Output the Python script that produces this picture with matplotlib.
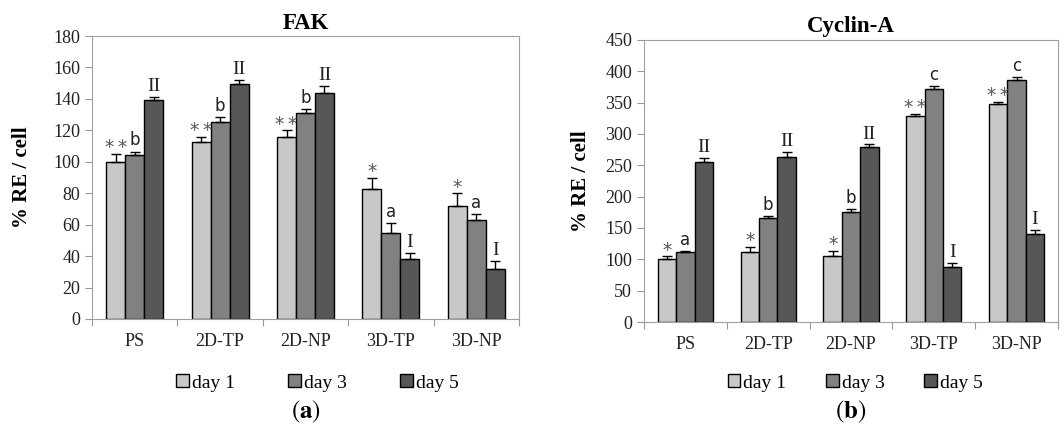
import numpy as np
import matplotlib.pyplot as plt

# DATA
GROUPS = ['PS', '2D-TP', '2D-NP', '3D-TP', '3D-NP']
DAYS = ['day 1', 'day 3', 'day 5']
COLORS = ['#c8c8c8', '#818181', '#575757']

# FAK (% RE / cell)
fak_day1 = [100, 112.5, 116, 83, 72]
fak_day3 = [104, 125.5, 131, 55, 63]
fak_day5 = [139.5, 149.5, 144, 38, 32]
fak_err1 = [5, 3.5, 4, 7, 8]
fak_err3 = [2.5, 3, 2.5, 6, 3.5]
fak_err5 = [2, 2.5, 4.5, 4, 5]
fak_marks1 = ['**', '**', '**', '*', '*']
fak_marks3 = ['b', 'b', 'b', 'a', 'a']
fak_marks5 = ['II', 'II', 'II', 'I', 'I']

# CYCLIN-A (% RE / cell)
cyc_day1 = [101, 112, 106, 329, 348]
cyc_day3 = [111, 166, 175, 372, 386]
cyc_day5 = [255, 263, 279, 87, 140]
cyc_err1 = [4, 8, 8, 3.5, 3.5]
cyc_err3 = [2, 3.5, 5, 4, 4.5]
cyc_err5 = [7, 8, 4.5, 7, 7]
cyc_marks1 = ['*', '*', '*', '**', '**']
cyc_marks3 = ['a', 'b', 'b', 'c', 'c']
cyc_marks5 = ['II', 'II', 'II', 'I', 'I']

plt.rcParams['font.family'] = ['Liberation Serif', 'DejaVu Serif']
plt.rcParams['mathtext.fontset'] = 'stix'


def panel(ax, title, days, errs, marks, ymax, ystep, tag, ylpad, tpad, leg_x, leg_y, colsp, tag_y):
    x = np.arange(len(GROUPS))
    w = 0.222
    for i in range(3):
        xi = x + (i - 1) * w
        ax.bar(xi, days[i], w, color=COLORS[i], edgecolor='black', linewidth=1.0,
               label=DAYS[i], zorder=2)
        ax.errorbar(xi, days[i], yerr=[np.zeros(len(GROUPS)), errs[i]], fmt='none',
                    ecolor='black', elinewidth=1.0, capsize=3.5, capthick=1.0, zorder=3)
        for j in range(len(GROUPS)):
            top = days[i][j] + errs[i][j]
            m = marks[i][j]
            if m.startswith('*'):
                # star marks sit a little apart in the original
                ax.text(xi[j], top - ymax * 0.012, '\u2009'.join(m), ha='center', va='bottom',
                        fontsize=13.5, family='DejaVu Sans', color='#555555')
            elif m in ('a', 'b', 'c'):
                ax.text(xi[j], top + ymax * 0.008, m, ha='center', va='bottom',
                        fontsize=12, family='DejaVu Sans', color='#222222')
            else:
                ax.text(xi[j], top + ymax * 0.006, m, ha='center', va='bottom',
                        fontsize=14, color='#222222')

    ax.set_xlim(-0.5, len(GROUPS) - 0.5)
    ax.set_ylim(0, ymax)
    ax.set_yticks(np.arange(0, ymax + 1, ystep))
    ax.set_xticks(np.arange(len(GROUPS) + 1) - 0.5)
    ax.set_xticklabels([])
    ax.set_xticks(x, minor=True)
    ax.set_xticklabels(GROUPS, minor=True)
    ax.tick_params(axis='x', which='minor', length=0, pad=10, labelsize=13, labelcolor='#222222')
    ax.tick_params(axis='x', which='major', length=5, color='#999999', direction='out')
    ax.tick_params(axis='y', length=5, color='#999999', labelsize=13, labelcolor='#222222')
    for s in ax.spines.values():
        s.set_color('#a0a0a0')
    ax.set_ylabel('% RE / cell', fontsize=15, fontweight='bold', labelpad=ylpad)
    ax.set_title(title, fontsize=16.5, fontweight='bold', pad=tpad)
    ax.legend(loc='center', bbox_to_anchor=(leg_x, leg_y), ncol=3, frameon=False,
              fontsize=14, handlelength=0.65, handleheight=0.65, handletextpad=0.15,
              columnspacing=colsp)
    ax.text(0.5, tag_y, tag, transform=ax.transAxes, ha='center', va='center',
            fontsize=18)


fig = plt.figure(figsize=(10.64, 4.34), dpi=100)
ax1 = fig.add_axes([0.0865, 0.265, 0.4013, 0.652])
ax2 = fig.add_axes([0.6053, 0.258, 0.389, 0.650])

panel(ax1, 'FAK', [fak_day1, fak_day3, fak_day5], [fak_err1, fak_err3, fak_err5],
      [fak_marks1, fak_marks3, fak_marks5], 180, 20, r'$(\mathbf{a})$',
      15, 5, 0.528, -0.226, 2.75, -0.33)
panel(ax2, 'Cyclin-A', [cyc_day1, cyc_day3, cyc_day5], [cyc_err1, cyc_err3, cyc_err5],
      [cyc_marks1, cyc_marks3, cyc_marks5], 450, 50, r'$(\mathbf{b})$',
      10, 6, 0.51, -0.216, 2.05, -0.32)

fig.savefig('out.png', dpi=100)
